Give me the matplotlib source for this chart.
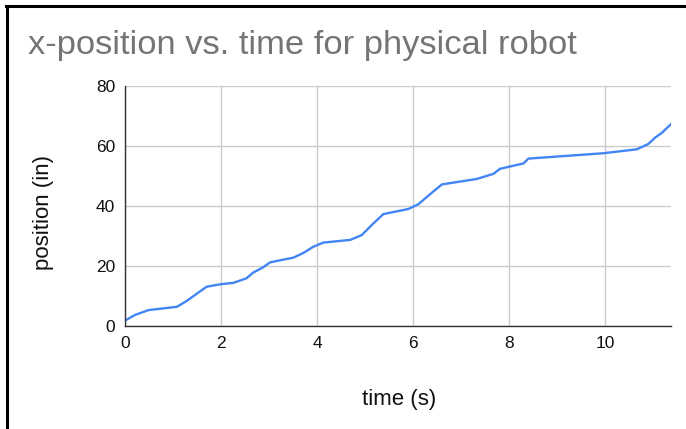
import matplotlib
matplotlib.use("Agg")
import matplotlib.pyplot as plt
from matplotlib.lines import Line2D

plt.rcParams['font.family'] = ['Liberation Sans', 'DejaVu Sans']

# данные
time_s = [0.0, 0.21, 0.49, 1.08, 1.28, 1.7, 1.98, 2.26, 2.53, 2.67, 2.88, 3.02,
          3.26, 3.51, 3.72, 3.92, 4.13, 4.69, 4.93, 5.14, 5.38, 5.9, 6.11, 6.35,
          6.6, 7.32, 7.67, 7.81, 8.3, 8.4, 9.97, 10.66, 10.9, 11.04, 11.18, 11.37]
position_in = [1.8, 3.7, 5.3, 6.4, 8.3, 13.1, 13.9, 14.4, 15.9, 17.8, 19.6, 21.2,
               22.0, 22.8, 24.4, 26.4, 27.8, 28.7, 30.3, 33.7, 37.3, 39.0, 40.6, 43.9,
               47.2, 49.0, 50.7, 52.4, 54.2, 55.8, 57.6, 58.9, 60.7, 62.8, 64.4, 67.3]

x_ticks = [0, 2, 4, 6, 8, 10]
y_ticks = [0, 20, 40, 60, 80]

W, H = 686, 429
fig = plt.figure(figsize=(W / 100, H / 100), dpi=100)
ax = fig.add_axes([125 / W, (H - 326) / H, (671 - 125) / W, (326 - 86) / H])

ax.plot(time_s, position_in, color='#4285F4', linewidth=1.7, solid_joinstyle='round')

ax.set_xlim(0, 11.37)
ax.set_ylim(0, 80)
ax.set_xticks(x_ticks)
ax.set_yticks(y_ticks)
ax.tick_params(length=0, labelsize=12.5, colors='#111111', pad=7)
ax.grid(True, color='#cccccc', linewidth=1)
ax.set_axisbelow(True)
for side in ['top', 'right']:
    ax.spines[side].set_visible(False)
for side in ['left', 'bottom']:
    ax.spines[side].set_color('#333333')
    ax.spines[side].set_linewidth(1)

# заголовок и подписи осей
fig.text(28 / W, 1 - 54 / H, 'x-position vs. time for physical robot',
         fontsize=24.8, color='#757575', ha='left', va='baseline')
fig.text(399 / W, 1 - 400 / H, 'time (s)', fontsize=16, color='#111111',
         ha='center', va='center')
fig.text(43 / W, 1 - 213 / H, 'position (in)', fontsize=16, color='#111111',
         ha='center', va='center', rotation=90)

# рамка слева и сверху
fig.add_artist(Line2D([7 / W, 7 / W], [0, 1 - 6 / H], transform=fig.transFigure,
                      color='black', linewidth=2.2))
fig.add_artist(Line2D([6 / W, 1], [1 - 6 / H, 1 - 6 / H], transform=fig.transFigure,
                      color='black', linewidth=2.2))

fig.savefig('out.png', dpi=100)
